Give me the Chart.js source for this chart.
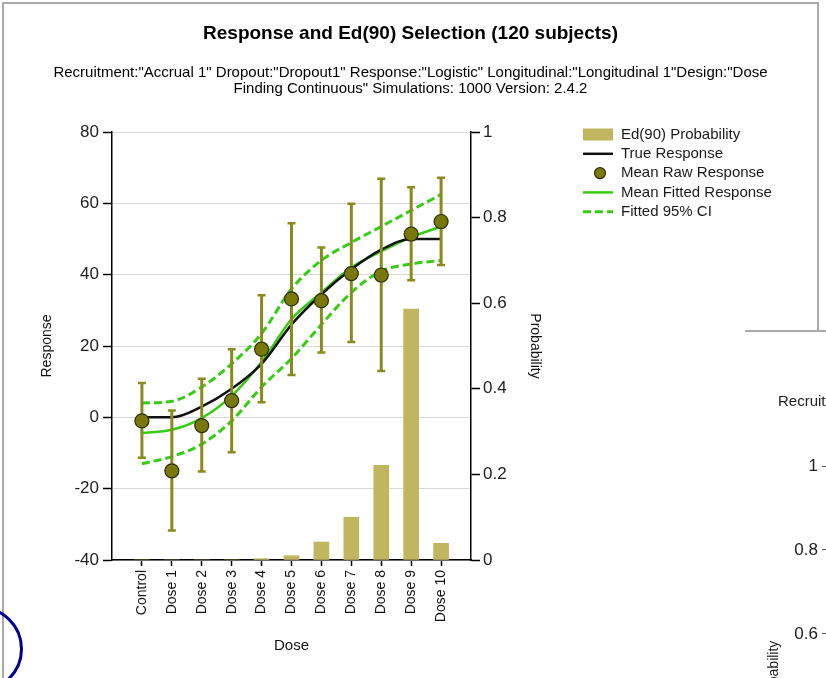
<!DOCTYPE html>
<html>
<head>
<meta charset="utf-8">
<title>Response and Ed(90) Selection</title>
<script src="https://cdn.jsdelivr.net/npm/chart.js@4.4.1/dist/chart.umd.min.js"></script>
<style>
  html, body { margin: 0; padding: 0; background: #fff; }
  #wrap { position: relative; width: 826px; height: 678px; overflow: hidden; background: #fff;
          font-family: "Liberation Sans", Arial, sans-serif; }
  #chart { position: absolute; left: 0; top: 0; }
  .rule { position: absolute; background: #a9a9a9; }
  .side { position: absolute; color: #222; white-space: nowrap; line-height: 1; }
  .tick { position: absolute; height: 1px; background: #555; }
  #ring { position: absolute; left: -63px; top: 606px; width: 80px; height: 80px;
          border: 3px solid #000090; border-radius: 50%; }
</style>
</head>
<body>
<div id="wrap">
  <canvas id="chart" width="826" height="678"></canvas>

  <!-- window frames -->
  <div class="rule" style="left:2px; top:2px; width:817px; height:2px;"></div>
  <div class="rule" style="left:2px; top:2px; width:2px; height:676px;"></div>
  <div class="rule" style="left:817px; top:2px; width:2px; height:330px;"></div>
  <div class="rule" style="left:745px; top:330px; width:81px; height:2px;"></div>

  <!-- neighbouring panel -->
  <div class="side" style="left:778px; top:393px; font-size:15px;">Recruit</div>
  <div class="side" style="right:8px; top:457px; font-size:17px;">1</div>
  <div class="tick" style="left:822px; top:466px; width:4px;"></div>
  <div class="side" style="right:8px; top:541px; font-size:17px;">0.8</div>
  <div class="tick" style="left:822px; top:549px; width:4px;"></div>
  <div class="side" style="right:8px; top:625px; font-size:17px;">0.6</div>
  <div class="tick" style="left:822px; top:633px; width:4px;"></div>
  <div class="side" style="left:773px; top:640px; font-size:14px; transform-origin:0 0; transform:rotate(-90deg) translate(-66px,-7px);">Probability</div>

  <div id="ring"></div>
</div>

<script>
// Dose groups on the x axis
const doseLabels = ['Control', 'Dose 1', 'Dose 2', 'Dose 3', 'Dose 4', 'Dose 5',
                    'Dose 6', 'Dose 7', 'Dose 8', 'Dose 9', 'Dose 10'];

// Probability that each dose is selected as Ed(90) (right axis)
const edProbability = [0, 0, 0, 0, 0.003, 0.01, 0.042, 0.10, 0.221, 0.586, 0.039];

// True dose-response curve
const trueResponse = [0, 0, 3, 8, 15, 26, 34.5, 41.5, 47, 50, 50];

// Mean raw response with its spread
const meanRaw  = [-1, -15, -2.3, 4.7, 19.1, 33.2, 32.7, 40.3, 39.9, 51.4, 54.9];
const rawUpper = [9.6, 1.9, 10.8, 19.1, 34.2, 54.4, 47.6, 59.9, 66.9, 64.5, 67.2];
const rawLower = [-11.3, -31.7, -15.2, -9.8, 4.2, 11.9, 18.2, 21.1, 13.0, 38.4, 42.7];

// Mean fitted response and its 95% interval
const fittedMean  = [-4.4, -3.5, -0.2, 6, 15.5, 27.5, 35, 42, 46.5, 50.5, 53.5];
const fittedUpper = [4, 4.5, 8.5, 15, 23.5, 36, 44, 49, 53.5, 58, 62.5];
const fittedLower = [-13, -11, -7.5, -1, 8.5, 16.5, 26, 35, 41, 43, 44];

// Axis ranges
const responseRange = [-40, 80, 20];
const probabilityRange = [0, 1, 0.2];

// One empty slot either side of the doses gives a full step of space at both ends
const axisLabels = ['', ...doseLabels, ''];
const pad = arr => [null, ...arr, null];

const BAR = '#bfb65f';
const GREEN = '#36cc14';
const OLIVE = '#8a8a1c';
const FONT = '"Liberation Sans", Arial, sans-serif';

// Vertical spread bars for the raw means, drawn just beneath the markers
const spreadBars = {
  id: 'spreadBars',
  beforeDatasetDraw(chart, args) {
    if (chart.data.datasets[args.index].id !== 'raw') return;
    const { ctx, scales } = chart;
    const x = scales.x, y = scales.yResp;
    ctx.save();
    ctx.strokeStyle = OLIVE;
    ctx.lineCap = 'butt';
    meanRaw.forEach((_, i) => {
      const px = x.getPixelForValue(i + 1);
      const top = y.getPixelForValue(rawUpper[i]);
      const bot = y.getPixelForValue(rawLower[i]);
      ctx.lineWidth = 3;
      ctx.beginPath(); ctx.moveTo(px, top); ctx.lineTo(px, bot); ctx.stroke();
      ctx.lineWidth = 2.5;
      ctx.beginPath();
      ctx.moveTo(px - 4, top); ctx.lineTo(px + 4, top);
      ctx.moveTo(px - 4, bot); ctx.lineTo(px + 4, bot);
      ctx.stroke();
    });
    ctx.restore();
  }
};

// Legend listed beside the plot
const sideLegend = {
  id: 'sideLegend',
  afterDraw(chart) {
    const { ctx, chartArea } = chart;
    const ds = chart.data.datasets;
    const byId = id => ds.find(d => d.id === id);
    const entries = ['prob', 'true', 'raw', 'fit', 'ciHigh'].map(byId);
    const x0 = chartArea.right + 112;
    let y = chartArea.top + 2.5;
    ctx.save();
    ctx.font = '15px ' + FONT;
    ctx.textBaseline = 'middle';
    entries.forEach(d => {
      if (d.type === 'bar') {
        ctx.fillStyle = d.backgroundColor;
        ctx.fillRect(x0, y - 6, 30, 12);
      } else if (d.showLine === false) {
        ctx.beginPath();
        ctx.arc(x0 + 17, y, 5.5, 0, Math.PI * 2);
        ctx.fillStyle = d.pointBackgroundColor;
        ctx.fill();
        ctx.lineWidth = 1.2;
        ctx.strokeStyle = d.pointBorderColor;
        ctx.stroke();
      } else {
        ctx.beginPath();
        ctx.setLineDash(d.borderDash || []);
        ctx.lineWidth = d.borderWidth;
        ctx.strokeStyle = d.borderColor;
        ctx.moveTo(x0, y); ctx.lineTo(x0 + 30, y);
        ctx.stroke();
        ctx.setLineDash([]);
      }
      ctx.fillStyle = '#1a1a1a';
      ctx.fillText(d.label, x0 + 38, y);
      y += 19.3;
    });
    ctx.restore();
  }
};

const lineBase = { type: 'line', yAxisID: 'yResp', pointRadius: 0, fill: false,
                   cubicInterpolationMode: 'monotone' };

new Chart(document.getElementById('chart'), {
  data: {
    labels: axisLabels,
    datasets: [
      { ...lineBase, id: 'raw', label: 'Mean Raw Response', data: pad(meanRaw), showLine: false,
        pointRadius: 7, pointBackgroundColor: '#78780c', pointBorderColor: '#2f2f00',
        pointBorderWidth: 1.2, order: 1 },
      { ...lineBase, id: 'true', label: 'True Response', data: pad(trueResponse),
        borderColor: '#111', borderWidth: 2.5, order: 2 },
      { ...lineBase, id: 'fit', label: 'Mean Fitted Response', data: pad(fittedMean),
        borderColor: GREEN, borderWidth: 2.5, order: 3 },
      { ...lineBase, id: 'ciHigh', label: 'Fitted 95% CI', data: pad(fittedUpper),
        borderColor: GREEN, borderWidth: 3, borderDash: [8, 4], order: 4 },
      { ...lineBase, id: 'ciLow', label: 'Fitted 95% CI', data: pad(fittedLower),
        borderColor: GREEN, borderWidth: 3, borderDash: [8, 4], order: 4 },
      { type: 'bar', id: 'prob', label: 'Ed(90) Probability', yAxisID: 'yProb',
        data: pad(edProbability), backgroundColor: BAR, barThickness: 15, order: 5 }
    ]
  },
  options: {
    responsive: false,
    animation: false,
    layout: { padding: { left: 0, right: 5, top: 0, bottom: 18 } },
    plugins: {
      legend: { display: false },
      tooltip: { enabled: false },
      title: {
        display: true,
        text: 'Response and Ed(90) Selection (120 subjects)',
        color: '#000',
        font: { family: FONT, size: 19, weight: 'bold' },
        padding: { top: 22.6, bottom: 19.6 }
      },
      subtitle: {
        display: true,
        text: ['Recruitment:"Accrual 1" Dropout:"Dropout1" Response:"Logistic" Longitudinal:"Longitudinal 1"Design:"Dose',
               'Finding Continuous" Simulations: 1000 Version: 2.4.2'],
        color: '#000',
        font: { family: FONT, size: 15, lineHeight: '16px' },
        padding: { top: 0, bottom: 35 }
      }
    },
    scales: {
      x: {
        type: 'category',
        position: 'bottom',
        offset: false,
        grid: {
          offset: false,
          drawOnChartArea: false,
          tickLength: 6,
          tickWidth: 1.5,
          tickColor: c => (c.index === 0 || c.index === axisLabels.length - 1) ? 'rgba(0,0,0,0)' : '#000'
        },
        border: { color: '#000', width: 1.5 },
        ticks: { autoSkip: false, minRotation: 90, maxRotation: 90, padding: 4,
                 color: '#111', font: { family: FONT, size: 14 } },
        title: { display: true, text: 'Dose', color: '#111',
                 font: { family: FONT, size: 15 }, padding: { top: 0, bottom: 5 } },
        afterFit: s => { s.height = 100; }
      },
      yResp: {
        type: 'linear',
        position: 'left',
        min: responseRange[0], max: responseRange[1],
        grid: { color: '#d9d9d9', lineWidth: 1, tickLength: 9, tickColor: '#000', tickWidth: 1.5 },
        border: { color: '#000', width: 1.5 },
        ticks: { stepSize: responseRange[2], padding: 4, color: '#222',
                 font: { family: FONT, size: 17 } },
        title: { display: true, text: 'Response', color: '#111',
                 font: { family: FONT, size: 14 }, padding: { top: 39, bottom: 0 } },
        afterFit: s => { s.width = 112; }
      },
      yProb: {
        type: 'linear',
        position: 'right',
        min: probabilityRange[0], max: probabilityRange[1],
        grid: { drawOnChartArea: false, tickLength: 9, tickColor: '#000', tickWidth: 1.5 },
        border: { color: '#000', width: 1.5 },
        ticks: { stepSize: probabilityRange[2], padding: 3, color: '#222',
                 font: { family: FONT, size: 17 },
                 callback: v => String(Math.round(v * 10) / 10) },
        title: { display: true, text: 'Probability', color: '#111',
                 font: { family: FONT, size: 14 }, padding: { top: 278, bottom: 0 } },
        afterFit: s => { s.width = 350; }
      }
    }
  },
  plugins: [spreadBars, sideLegend]
});
</script>
</body>
</html>
